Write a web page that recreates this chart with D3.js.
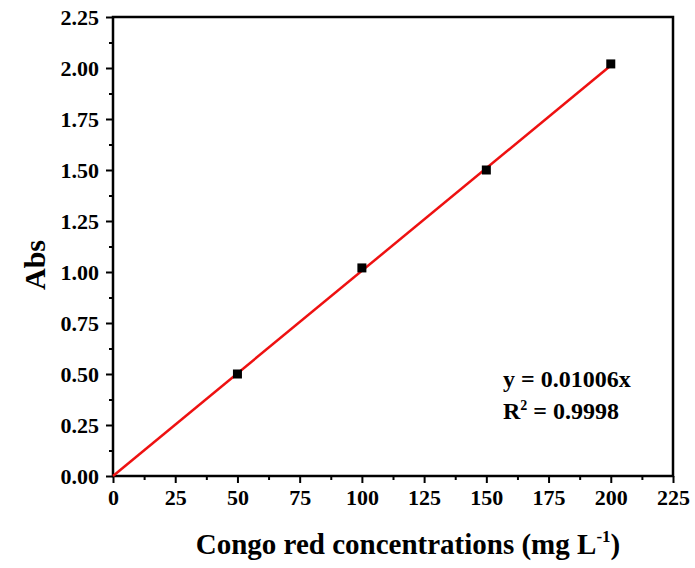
<!DOCTYPE html>
<html>
<head>
<meta charset="utf-8">
<script src="https://cdn.jsdelivr.net/npm/d3@7"></script>
<style>
  body { margin: 0; background: #fff; }
  svg text { font-family: "Liberation Serif", "Times New Roman", serif; font-weight: bold; }
</style>
</head>
<body>
<svg width="695" height="568"></svg>
<script>
const concentrations = [50, 100, 150, 200];
const absorbance = [0.50, 1.02, 1.50, 2.02];
const xTicks = [0, 25, 50, 75, 100, 125, 150, 175, 200, 225];
const yTicks = [0, 0.25, 0.5, 0.75, 1.0, 1.25, 1.5, 1.75, 2.0, 2.25];
const slope = 0.01006;
const fitRange = [0, 200];

const svg = d3.select('svg');
const margin = {top: 17, right: 22, bottom: 92, left: 113};
const width = +svg.attr('width');
const height = +svg.attr('height');
const innerWidth = width - margin.left - margin.right;
const innerHeight = height - margin.top - margin.bottom;

const xScale = d3.scaleLinear().domain([0, 225]).range([0, innerWidth]);
const yScale = d3.scaleLinear().domain([0, 2.25]).range([innerHeight, 0]);

const g = svg.append('g')
    .attr('transform', `translate(${margin.left},${margin.top})`);

// minor ticks
const xMinor = d3.range(12.5, 225, 25);
const yMinor = d3.range(0.125, 2.25, 0.25);

const xMinorAxis = g.append('g')
    .attr('transform', `translate(0,${innerHeight})`)
    .call(d3.axisBottom(xScale).tickValues(xMinor).tickSize(4).tickFormat(''));
const yMinorAxis = g.append('g')
    .call(d3.axisLeft(yScale).tickValues(yMinor).tickSize(4).tickFormat(''));
[xMinorAxis, yMinorAxis].forEach(a => {
    a.select('.domain').remove();
    a.selectAll('text').remove();
    a.selectAll('line').attr('stroke', '#000').attr('stroke-width', 2);
});

// major axes
const xAxisG = g.append('g')
    .attr('transform', `translate(0,${innerHeight})`)
    .call(d3.axisBottom(xScale).tickValues(xTicks).tickSize(7).tickPadding(6).tickFormat(d3.format('d')));
const yAxisG = g.append('g')
    .call(d3.axisLeft(yScale).tickValues(yTicks).tickSize(7).tickPadding(7).tickFormat(d3.format('.2f')));

[xAxisG, yAxisG].forEach(a => {
    a.attr('font-size', 22).attr('font-family', null);
    a.select('.domain').remove();
    a.selectAll('line').attr('stroke', '#000').attr('stroke-width', 2);
    a.selectAll('text').attr('fill', '#000');
});

// frame
g.append('rect')
    .attr('width', innerWidth)
    .attr('height', innerHeight)
    .attr('fill', 'none')
    .attr('stroke', '#000')
    .attr('stroke-width', 2.5);

// fit line
g.append('line')
    .attr('x1', xScale(fitRange[0]))
    .attr('y1', yScale(slope * fitRange[0]))
    .attr('x2', xScale(fitRange[1]))
    .attr('y2', yScale(slope * fitRange[1]))
    .attr('stroke', '#ee1111')
    .attr('stroke-width', 2.5);

// data points
g.selectAll('rect.pt').data(concentrations)
    .enter().append('rect')
    .attr('class', 'pt')
    .attr('x', d => xScale(d) - 4.5)
    .attr('y', (d, i) => yScale(absorbance[i]) - 4.5)
    .attr('width', 9)
    .attr('height', 9)
    .attr('fill', '#000');

// equation
const eq = g.append('g').attr('font-size', 24);
eq.append('text').attr('x', 390).attr('y', 370).text('y = 0.01006x');
const r2 = eq.append('text').attr('x', 390).attr('y', 402);
r2.append('tspan').text('R');
r2.append('tspan').attr('dy', -9).attr('font-size', 14).text('2');
r2.append('tspan').attr('dy', 9).text(' = 0.9998');

// axis titles
svg.append('text')
    .attr('transform', `translate(45,265) rotate(-90)`)
    .attr('text-anchor', 'middle')
    .attr('font-size', 30)
    .text('Abs');

const xt = svg.append('text')
    .attr('x', margin.left + innerWidth / 2 + 15)
    .attr('y', 554)
    .attr('text-anchor', 'middle')
    .attr('font-size', 29);
xt.append('tspan').text('Congo red concentrations (mg L');
xt.append('tspan').attr('dy', -12).attr('font-size', 17).text('-1');
xt.append('tspan').attr('dy', 12).text(')');
</script>
</body>
</html>
